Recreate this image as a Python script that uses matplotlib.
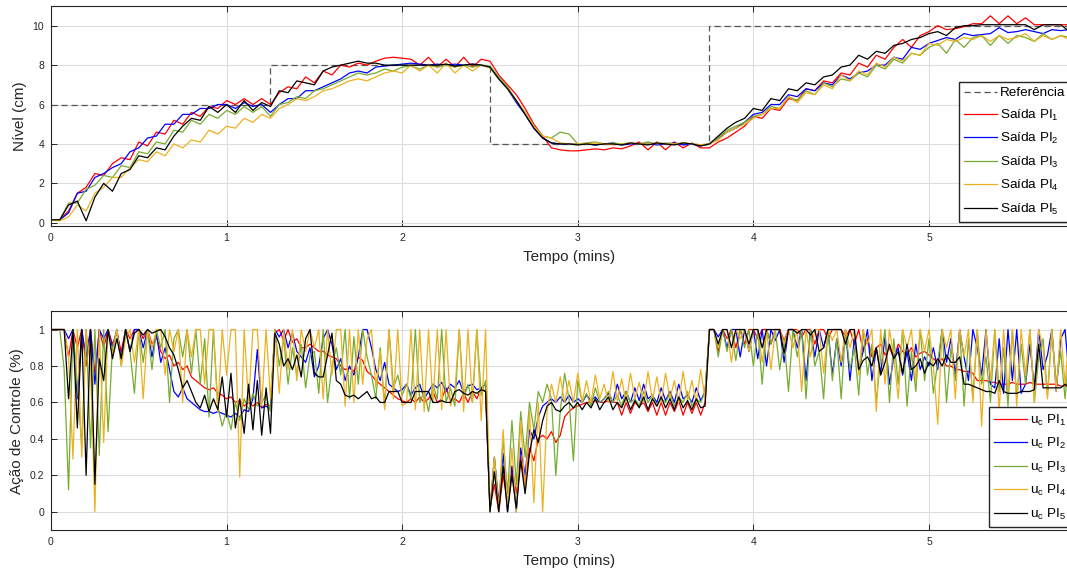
import matplotlib
matplotlib.use("Agg")
import matplotlib.pyplot as plt
import numpy as np

plt.rcParams["font.family"] = ["Liberation Sans", "DejaVu Sans"]
plt.rcParams["mathtext.fontset"] = "custom"
plt.rcParams["mathtext.rm"] = "Liberation Sans"
plt.rcParams["mathtext.it"] = "Liberation Sans"

# ---- nível (cm), amostrado a cada 0.05 min ----
t_nivel = np.round(np.arange(117) * 0.05, 3)

ref_t = [0.0, 1.25, 2.5, 3.75, 5.9]
ref_v = [6, 8, 4, 10, 10]

nivel_pi1 = [
    0.15, 0.15, 0.6, 1.5, 1.8, 2.5, 2.4, 3.0, 3.3, 3.2,
    4.1, 3.9, 4.6, 4.5, 5.2, 5.0, 5.6, 5.4, 5.9, 5.8,
    6.2, 6.0, 6.3, 6.0, 6.3, 6.0, 6.6, 6.9, 6.8, 7.4,
    7.1, 7.7, 7.5, 8.0, 7.9, 8.1, 8.0, 8.2, 8.35, 8.4,
    8.35, 8.3, 8.0, 8.4, 7.9, 8.3, 7.9, 8.4, 7.9, 8.3,
    8.2, 7.5, 7.0, 6.5, 5.8, 5.0, 4.4, 3.8, 3.7, 3.65,
    3.65, 3.7, 3.75, 3.7, 3.8, 3.75, 3.9, 4.1, 3.7, 4.1,
    3.7, 4.1, 3.8, 4.05, 3.8, 3.8, 4.1, 4.3, 4.6, 4.9,
    5.4, 5.3, 5.8, 5.7, 6.3, 6.2, 6.8, 6.7, 7.2, 7.1,
    7.6, 7.5, 8.1, 7.9, 8.5, 8.3, 8.9, 9.3, 8.9, 9.5,
    9.7, 10.0, 9.8, 9.85, 9.95, 10.1, 10.1, 10.5, 10.1, 10.5,
    10.1, 10.4, 10.05, 10.05, 10.05, 10.05, 10.05,
]
nivel_pi2 = [
    0.15, 0.15, 0.5, 1.5, 1.6, 2.3, 2.5, 2.8, 3.0, 3.6,
    3.8, 4.3, 4.4, 5.0, 5.0, 5.5, 5.5, 5.8, 5.8, 6.0,
    6.0, 5.8, 6.1, 5.9, 6.0, 5.6, 6.0, 6.3, 6.3, 6.7,
    6.7, 6.9, 7.1, 7.3, 7.6, 7.7, 7.6, 7.9, 7.95, 8.0,
    8.05, 8.1, 8.05, 8.0, 8.05, 8.0, 8.05, 8.0, 8.05, 8.0,
    7.9, 7.3, 6.8, 6.1, 5.5, 4.8, 4.3, 4.05, 4.0, 4.0,
    4.0, 4.0, 3.95, 4.0, 4.05, 3.95, 4.0, 4.0, 4.05, 3.95,
    4.0, 4.05, 3.95, 4.0, 3.9, 4.0, 4.3, 4.6, 4.8, 5.1,
    5.5, 5.6, 6.0, 6.0, 6.5, 6.4, 6.8, 6.7, 7.1, 7.0,
    7.5, 7.3, 7.6, 7.7, 8.0, 8.0, 8.4, 8.3, 8.9, 8.8,
    9.1, 9.25, 9.4, 9.3, 9.6, 9.5, 9.55, 9.6, 9.9, 9.65,
    9.7, 9.8, 9.7, 9.6, 9.8, 9.75, 9.8,
]
nivel_pi3 = [
    0.15, 0.15, 1.0, 1.0, 1.7, 1.9, 2.4, 2.3, 2.9, 2.8,
    3.6, 3.5, 4.1, 4.0, 4.7, 4.6, 5.2, 5.0, 5.5, 5.3,
    5.7, 5.5, 5.9, 5.6, 5.9, 5.4, 6.0, 6.1, 6.4, 6.3,
    6.7, 6.8, 7.0, 7.2, 7.4, 7.6, 7.5, 7.6, 7.8, 7.7,
    7.9, 7.95, 7.8, 8.0, 7.9, 8.0, 7.9, 8.0, 7.9, 8.0,
    7.95, 7.4, 6.9, 6.2, 5.6, 4.9, 4.4, 4.3, 4.6, 4.5,
    4.0, 4.05, 4.1, 4.0, 4.05, 4.0, 4.05, 4.0, 4.1, 4.0,
    4.05, 4.0, 4.05, 4.0, 3.95, 4.0, 4.3, 4.7, 4.9, 5.1,
    5.4, 5.5, 5.9, 5.8, 6.4, 6.2, 6.7, 6.5, 7.1, 6.9,
    7.3, 7.2, 7.6, 7.4, 8.0, 7.8, 8.3, 8.1, 8.6, 8.5,
    8.9, 9.1, 8.6, 9.3, 8.9, 9.4, 9.5, 9.0, 9.5, 9.1,
    9.5, 9.4, 9.2, 9.6, 9.3, 9.5, 9.4,
]
nivel_pi4 = [
    0.15, 0.1, 0.3, 0.9, 0.6, 1.5, 1.8, 2.3, 2.3, 2.8,
    3.2, 3.1, 3.6, 3.4, 4.0, 3.8, 4.2, 4.1, 4.7, 4.5,
    4.9, 4.8, 5.3, 5.1, 5.5, 5.3, 5.8, 6.0, 6.3, 6.2,
    6.4, 6.7, 6.8, 7.0, 7.2, 7.3, 7.2, 7.4, 7.6, 7.7,
    7.6, 8.0, 7.7, 8.0, 7.6, 8.1, 7.6, 8.0, 7.7, 8.0,
    7.85, 7.3, 6.8, 6.2, 5.6, 4.9, 4.4, 4.3, 4.05, 4.0,
    4.0, 4.0, 4.05, 4.0, 3.95, 4.0, 4.05, 4.0, 4.0, 4.05,
    4.0, 4.0, 4.05, 4.0, 3.95, 4.0, 4.2, 4.6, 4.8, 5.0,
    5.3, 5.5, 5.8, 5.8, 6.4, 6.1, 6.6, 6.5, 7.0, 6.8,
    7.5, 7.2, 7.7, 7.5, 8.1, 7.9, 8.4, 8.2, 8.6, 8.5,
    9.1, 9.0, 9.3, 9.2, 9.4, 9.3, 9.5, 9.2, 9.5, 9.3,
    9.4, 9.6, 9.2, 9.5, 9.3, 9.5, 9.3,
]
nivel_pi5 = [
    0.15, 0.15, 0.9, 1.1, 0.1, 1.3, 2.0, 1.6, 2.5, 2.7,
    3.4, 3.3, 3.8, 3.7, 4.4, 4.9, 5.3, 5.2, 5.9, 5.6,
    6.0, 5.6, 6.2, 5.7, 6.1, 5.9, 6.7, 6.6, 7.2, 7.1,
    7.0, 7.7, 7.9, 8.0, 8.1, 8.2, 8.1, 8.1, 8.0, 8.0,
    8.0, 8.0, 8.0, 8.0, 8.0, 8.05, 7.95, 8.0, 8.05, 8.0,
    7.9, 7.3, 6.8, 6.2, 5.5, 4.8, 4.3, 4.05, 4.0, 4.0,
    3.95, 4.0, 3.95, 4.0, 4.0, 3.95, 4.05, 4.0, 3.95, 4.05,
    4.0, 3.95, 4.05, 4.0, 3.9, 4.0, 4.4, 4.8, 5.1, 5.3,
    5.8, 5.7, 6.3, 6.2, 6.8, 6.7, 7.1, 7.0, 7.4, 7.5,
    7.9, 8.0, 8.5, 8.3, 8.7, 8.6, 9.0, 9.1, 9.3, 9.4,
    9.6, 9.7, 9.5, 9.9, 10.0, 10.0, 10.05, 10.05, 10.05, 10.05,
    10.05, 10.05, 9.8, 10.05, 10.05, 10.05, 9.7,
]

# ---- ação de controle, amostrada a cada 0.025 min ----
t_acao = np.round(np.arange(233) * 0.025, 4)

uc_pi1 = [
    1, 1, 1, 1, 0.85, 1.0, 0.9, 1.0, 0.8, 1.0, 0.76, 1.0, 0.9, 1.0, 0.92, 0.98, 0.88, 1.0, 0.95, 1.0,
    1.0, 0.95, 1.0, 0.92, 0.96, 0.88, 0.84, 0.86, 0.8, 0.82, 0.78, 0.8, 0.74, 0.72, 0.7, 0.68, 0.67, 0.68, 0.65, 0.64,
    0.62, 0.63, 0.6, 0.61, 0.58, 0.6, 0.58, 0.6, 0.57, 0.59, 0.58, 0.98, 1.0, 0.94, 1.0, 0.93, 0.95, 0.9, 0.9, 0.92,
    0.9, 0.88, 0.88, 0.86, 0.85, 0.84, 0.8, 0.78, 0.79, 0.77, 0.85, 0.83, 0.77, 0.75, 0.72, 0.7, 0.68, 0.66, 0.64, 0.62,
    0.61, 0.6, 0.62, 0.6, 0.63, 0.6, 0.62, 0.66, 0.6, 0.62, 0.68, 0.61, 0.62, 0.6, 0.65, 0.6, 0.66, 0.62, 0.68, 0.66,
    0.02, 0.15, 0.0, 0.2, 0.05, 0.25, 0.1, 0.3, 0.15, 0.35, 0.28, 0.4, 0.42, 0.4, 0.44, 0.38, 0.42, 0.52, 0.55, 0.57,
    0.58, 0.59, 0.6, 0.6, 0.61, 0.6, 0.6, 0.61, 0.6, 0.6, 0.53, 0.6, 0.54, 0.6, 0.58, 0.6, 0.55, 0.6, 0.53, 0.6,
    0.53, 0.6, 0.55, 0.61, 0.53, 0.6, 0.54, 0.6, 0.53, 0.6, 1.0, 1.0, 0.88, 1.0, 0.95, 1.0, 0.9, 1.0, 0.92, 1.0,
    1.0, 0.95, 1.0, 1.0, 0.92, 1.0, 1.0, 0.94, 1.0, 1.0, 1.0, 0.96, 1.0, 1.0, 0.92, 1.0, 1.0, 0.95, 1.0, 1.0,
    1.0, 0.96, 1.0, 0.92, 1.0, 0.88, 0.95, 0.85, 0.9, 0.92, 0.86, 0.9, 0.84, 0.92, 0.88, 0.86, 0.9, 0.85, 0.87, 0.88,
    0.86, 0.84, 0.82, 0.84, 0.8, 0.8, 0.78, 0.78, 0.77, 0.77, 0.76, 0.72, 0.72, 0.72, 0.71, 0.71, 0.7, 0.7, 0.7, 0.71,
    0.7, 0.7, 0.7, 0.71, 0.7, 0.7, 0.7, 0.7, 0.7, 0.7, 0.69, 0.69, 0.69,
]
uc_pi2 = [
    1, 1, 1, 1, 0.95, 1.0, 0.62, 1.0, 0.85, 1.0, 0.7, 1.0, 0.95, 1.0, 0.9, 1.0, 0.84, 1.0, 0.88, 1.0,
    1.0, 0.9, 1.0, 0.85, 0.98, 0.82, 0.9, 0.78, 0.66, 0.63, 0.68, 0.62, 0.6, 0.58, 0.56, 0.55, 0.55, 0.54, 0.55, 0.54,
    0.53, 0.52, 0.54, 0.52, 0.56, 0.55, 0.62, 0.89, 0.57, 0.58, 0.56, 1.0, 0.96, 1.0, 0.9, 0.98, 0.88, 0.85, 0.82, 0.9,
    0.74, 0.8, 0.95, 1.0, 0.92, 0.78, 0.84, 0.72, 0.8, 0.75, 0.85, 1.0, 1.0, 0.9, 0.78, 0.72, 0.82, 0.7, 0.68, 0.66,
    0.67, 0.7, 0.64, 0.68, 0.7, 0.62, 0.66, 0.7, 0.68, 0.71, 0.66, 0.7, 0.68, 0.72, 0.65, 0.69, 0.7, 0.67, 0.68, 0.7,
    0.0, 0.3, 0.05, 0.32, 0.0, 0.25, 0.0, 0.35, 0.2, 0.45, 0.4, 0.52, 0.58, 0.6, 0.62, 0.6, 0.63, 0.6, 0.64, 0.6,
    0.62, 0.6, 0.64, 0.61, 0.63, 0.6, 0.62, 0.65, 0.6, 0.7, 0.62, 0.66, 0.6, 0.68, 0.61, 0.7, 0.62, 0.64, 0.6, 0.68,
    0.61, 0.66, 0.6, 0.7, 0.62, 0.64, 0.6, 0.68, 0.61, 0.66, 1.0, 1.0, 0.96, 1.0, 0.9, 1.0, 1.0, 0.85, 1.0, 0.88,
    1.0, 0.84, 1.0, 0.8, 1.0, 0.94, 1.0, 0.82, 1.0, 1.0, 0.9, 1.0, 0.72, 1.0, 0.85, 1.0, 0.9, 1.0, 0.75, 0.95,
    0.8, 1.0, 0.72, 0.95, 0.78, 0.88, 1.0, 0.72, 0.9, 0.76, 0.96, 0.7, 0.85, 0.9, 0.75, 0.88, 0.72, 0.92, 0.78, 0.85,
    0.8, 0.9, 0.78, 1.0, 0.82, 0.95, 0.75, 1.0, 0.85, 0.72, 1.0, 0.9, 0.75, 1.0, 0.7, 0.68, 0.95, 0.65, 1.0, 0.72,
    1.0, 0.65, 0.7, 0.92, 0.68, 1.0, 0.78, 0.86, 1.0, 0.66, 0.95, 1.0, 0.72,
]
uc_pi3 = [
    1, 1, 1, 0.78, 0.12, 1.0, 0.7, 0.36, 1.0, 0.35, 1.0, 0.31, 1.0, 0.44, 0.9, 1.0, 0.8, 1.0, 0.88, 0.65,
    1.0, 0.82, 1.0, 0.78, 1.0, 0.9, 1.0, 0.6, 0.95, 1.0, 0.85, 1.0, 0.76, 1.0, 0.7, 0.95, 0.52, 1.0, 0.58, 0.47,
    0.55, 0.45, 0.6, 0.5, 0.62, 0.56, 0.65, 0.58, 0.6, 0.64, 0.55, 1.0, 0.8, 0.95, 0.7, 0.9, 0.75, 0.92, 0.68, 0.86,
    0.88, 0.65, 1.0, 0.6, 0.8, 0.9, 0.75, 1.0, 0.62, 0.96, 0.7, 1.0, 0.85, 0.75, 0.62, 0.9, 0.58, 1.0, 0.68, 0.75,
    0.64, 0.7, 0.62, 1.0, 0.6, 0.66, 0.55, 0.7, 0.62, 1.0, 0.6, 0.68, 0.58, 1.0, 0.62, 0.7, 0.6, 1.0, 0.64, 0.72,
    0.0, 0.3, 0.02, 0.4, 0.1, 0.5, 0.15, 0.55, 0.3, 0.6, 0.45, 0.66, 0.6, 0.7, 0.62, 0.2, 0.55, 0.76, 0.62, 0.28,
    0.72, 0.6, 0.65, 0.58, 0.68, 0.6, 0.62, 0.66, 0.6, 0.64, 0.58, 0.66, 0.6, 0.62, 0.58, 0.66, 0.6, 0.64, 0.58, 0.62,
    0.6, 0.65, 0.58, 0.63, 0.6, 0.66, 0.58, 0.62, 0.6, 0.66, 1.0, 1.0, 0.85, 1.0, 0.88, 1.0, 0.83, 1.0, 0.9, 1.0,
    0.8, 1.0, 0.7, 1.0, 0.92, 1.0, 0.78, 0.95, 0.66, 1.0, 0.85, 1.0, 0.62, 1.0, 0.8, 0.88, 0.62, 1.0, 0.72, 0.95,
    0.62, 1.0, 0.78, 0.9, 0.64, 1.0, 0.75, 0.92, 0.6, 0.85, 1.0, 0.6, 0.95, 0.7, 1.0, 0.58, 0.88, 0.66, 1.0, 0.72,
    0.95, 0.65, 0.82, 1.0, 0.6, 0.9, 0.72, 1.0, 0.58, 0.95, 0.62, 1.0, 0.7, 0.85, 0.6, 1.0, 0.66, 0.9, 0.58, 1.0,
    0.62, 0.92, 0.7, 1.0, 0.6, 0.85, 0.95, 0.64, 1.0, 0.7, 0.88, 0.62, 0.9,
]
uc_pi4 = [
    1, 1, 1, 1, 0.85, 0.29, 1.0, 0.3, 1.0, 0.8, 0.0, 1.0, 0.38, 1.0, 0.85, 1.0, 0.8, 0.95, 1.0, 0.82,
    1.0, 0.62, 1.0, 0.9, 1.0, 1.0, 0.75, 1.0, 0.88, 1.0, 0.6, 1.0, 0.85, 1.0, 1.0, 0.7, 1.0, 1.0, 0.55, 1.0,
    0.75, 1.0, 1.0, 0.19, 1.0, 0.6, 1.0, 1.0, 0.58, 1.0, 0.62, 1.0, 0.65, 1.0, 0.78, 1.0, 0.72, 1.0, 0.88, 1.0,
    0.9, 1.0, 0.62, 1.0, 0.75, 1.0, 1.0, 0.58, 1.0, 0.6, 1.0, 0.7, 0.95, 1.0, 0.68, 0.88, 0.56, 1.0, 0.62, 1.0,
    0.58, 0.6, 1.0, 0.56, 1.0, 0.55, 1.0, 0.6, 1.0, 0.56, 1.0, 0.58, 0.66, 1.0, 0.55, 1.0, 0.6, 1.0, 0.5, 1.0,
    0.0, 0.3, 0.0, 0.45, 0.02, 0.35, 0.0, 0.5, 0.1, 0.55, 0.05, 0.6, 0.0, 0.55, 0.7, 0.6, 0.74, 0.6, 0.72, 0.6,
    0.76, 0.6, 0.72, 0.6, 0.75, 0.62, 0.7, 0.6, 0.77, 0.61, 0.73, 0.6, 0.76, 0.62, 0.71, 0.6, 0.77, 0.61, 0.74, 0.6,
    0.76, 0.62, 0.72, 0.6, 0.77, 0.61, 0.72, 0.6, 0.78, 0.62, 1.0, 1.0, 0.9, 1.0, 1.0, 0.82, 1.0, 0.95, 1.0, 0.88,
    1.0, 1.0, 0.82, 1.0, 0.78, 1.0, 1.0, 0.92, 1.0, 0.9, 1.0, 0.66, 1.0, 0.85, 1.0, 1.0, 0.76, 1.0, 0.94, 1.0,
    0.82, 1.0, 0.9, 1.0, 0.75, 1.0, 0.92, 1.0, 0.55, 1.0, 0.7, 1.0, 0.85, 0.62, 1.0, 0.9, 1.0, 0.72, 1.0, 0.88,
    1.0, 0.8, 0.48, 1.0, 0.9, 1.0, 0.62, 1.0, 0.85, 1.0, 0.6, 1.0, 0.47, 1.0, 0.72, 1.0, 0.55, 1.0, 0.65, 1.0,
    0.58, 1.0, 0.75, 1.0, 0.6, 1.0, 0.9, 0.62, 1.0, 0.66, 1.0, 0.7, 1.0,
]
uc_pi5 = [
    1, 1, 1, 1.0, 0.62, 1.0, 0.46, 1.0, 0.2, 1.0, 0.15, 0.84, 0.72, 1.0, 0.84, 0.95, 0.84, 1.0, 0.88, 0.98,
    1.0, 0.97, 1.0, 0.98, 0.99, 1.0, 0.96, 0.9, 0.86, 0.78, 0.68, 0.72, 0.66, 0.6, 0.57, 0.64, 0.55, 0.62, 0.56, 0.74,
    0.52, 0.76, 0.46, 0.62, 0.43, 0.7, 0.45, 0.72, 0.42, 0.68, 0.43, 0.98, 0.92, 0.8, 0.84, 0.78, 0.86, 0.74, 0.95, 1.0,
    0.76, 0.74, 0.74, 0.86, 0.98, 0.72, 0.7, 0.64, 0.63, 0.64, 0.62, 0.64, 0.66, 0.62, 0.63, 0.6, 0.6, 0.66, 0.66, 0.66,
    0.6, 0.6, 0.6, 0.66, 0.66, 0.66, 0.66, 0.6, 0.6, 0.61, 0.6, 0.6, 0.66, 0.67, 0.65, 0.64, 0.66, 0.65, 0.67, 0.66,
    0.0, 0.22, 0.0, 0.25, 0.0, 0.2, 0.02, 0.28, 0.1, 0.32, 0.45, 0.38, 0.5, 0.58, 0.6, 0.56, 0.55, 0.58, 0.6, 0.57,
    0.6, 0.56, 0.6, 0.57, 0.62, 0.56, 0.6, 0.63, 0.56, 0.6, 0.57, 0.63, 0.56, 0.61, 0.57, 0.63, 0.56, 0.62, 0.58, 0.63,
    0.57, 0.62, 0.56, 0.63, 0.57, 0.61, 0.56, 0.62, 0.57, 0.58, 1.0, 1.0, 0.92, 1.0, 1.0, 0.9, 1.0, 1.0, 1.0, 0.92,
    1.0, 1.0, 0.9, 1.0, 1.0, 1.0, 1.0, 0.87, 1.0, 1.0, 0.98, 1.0, 1.0, 0.97, 1.0, 0.88, 0.9, 1.0, 1.0, 1.0,
    1.0, 0.92, 1.0, 1.0, 0.78, 0.83, 0.85, 0.8, 0.9, 0.75, 0.82, 0.92, 0.84, 0.88, 0.76, 0.92, 0.78, 0.8, 0.84, 0.76,
    0.82, 0.8, 0.84, 0.8, 0.86, 0.82, 0.82, 0.85, 0.7, 0.7, 0.69, 0.68, 0.67, 0.66, 0.66, 0.65, 0.72, 0.66, 0.65, 0.65,
    0.65, 0.66, 0.66, 0.66, 0.67, 0.92, 0.68, 0.68, 0.68, 0.68, 0.68, 0.7, 0.68,
]

cores = ["#ff0000", "#0000ff", "#77ac30", "#edb120", "#000000"]
eixo_cor = "#262626"

fig = plt.figure(figsize=(10.67, 5.71), dpi=100)
ax1 = fig.add_axes([51 / 1067, 0.6047, 1036 / 1067, 0.3848])
ax2 = fig.add_axes([51 / 1067, 0.0718, 1036 / 1067, 0.383])


def estilo(ax):
    ax.set_xlim(0, 5.9)
    ax.set_xticks([0, 1, 2, 3, 4, 5])
    ax.grid(True, color="#dcdcdc", linewidth=0.8)
    ax.set_axisbelow(True)
    ax.tick_params(direction="in", top=True, right=False, length=4, pad=5,
                   labelsize=7.5, colors=eixo_cor, width=0.7)
    for s in ax.spines.values():
        s.set_color(eixo_cor)
        s.set_linewidth(0.8)
    ax.set_xlabel("Tempo (mins)", fontsize=11, color=eixo_cor, labelpad=5)


def legenda(ax, x0, y0):
    ax.legend(loc="lower left", bbox_to_anchor=(x0 / 1067, (571 - y0) / 571),
              bbox_transform=fig.transFigure, borderaxespad=0, fontsize=9.7,
              fancybox=False, framealpha=1, edgecolor="#262626",
              handlelength=2.4, handletextpad=0.25, labelspacing=0.62,
              borderpad=0.4)


# nível do tanque
ax1.plot(ref_t, ref_v, drawstyle="steps-post", color="#555555",
         linestyle=(0, (5, 3)), linewidth=0.9, label="Referência")
saidas = [nivel_pi1, nivel_pi2, nivel_pi3, nivel_pi4, nivel_pi5]
for i, y in enumerate(saidas):
    ax1.plot(t_nivel, y, color=cores[i], linewidth=0.9,
             label=r"Saída PI$_{\mathregular{%d}}$" % (i + 1))
estilo(ax1)
ax1.set_ylim(-0.15, 11)
ax1.set_yticks([0, 2, 4, 6, 8, 10])
ax1.set_ylabel("Nível (cm)", fontsize=11, color=eixo_cor)
legenda(ax1, 959, 222)

# ação de controle
acoes = [uc_pi1, uc_pi2, uc_pi3, uc_pi4, uc_pi5]
for i, y in enumerate(acoes):
    ax2.plot(t_acao, y, color=cores[i], linewidth=0.9,
             label=r"u$_{\mathregular{c}}$ PI$_{\mathregular{%d}}$" % (i + 1))
estilo(ax2)
ax2.set_ylim(-0.1, 1.1)
ax2.set_yticks([0, 0.2, 0.4, 0.6, 0.8, 1])
ax2.set_yticklabels(["0", "0.2", "0.4", "0.6", "0.8", "1"])
ax2.set_ylabel("Ação de Controle (%)", fontsize=11, color=eixo_cor)
legenda(ax2, 989, 527)

fig.savefig("out.png", dpi=100)
